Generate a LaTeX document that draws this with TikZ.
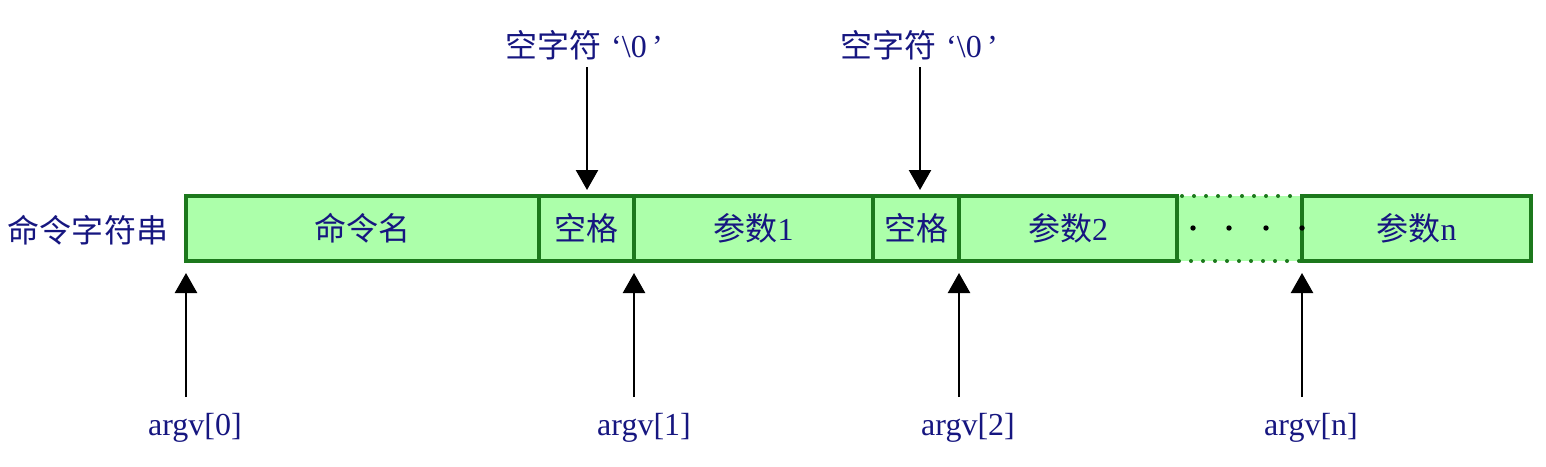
\documentclass[tikz,border=0pt]{standalone}
\usepackage{fontspec}
\setmainfont{Liberation Serif}
\newfontfamily\cjk{Noto Sans CJK SC}
\usetikzlibrary{arrows.meta}
\definecolor{txt}{RGB}{22,22,128}
\definecolor{bord}{RGB}{28,120,28}
\definecolor{cellfill}{RGB}{172,255,170}
\tikzset{
  cell/.style={draw=bord, fill=cellfill, line width=1.6pt, rectangle, inner sep=0pt, outer sep=0pt, minimum height=32.5pt, text=txt, font=\fontsize{16}{18}\selectfont},
  lbl/.style={text=txt, inner sep=0pt, font=\fontsize{16}{18}\selectfont},
  arr/.style={line width=1.25pt, -{Triangle[width=11pt,length=10pt]}},
}
\begin{document}
\begin{tikzpicture}[x=0.5pt,y=-0.5pt]
\useasboundingbox (0,0) rectangle (1546,466);
% dotted cell
\node[cell, draw=none, minimum width=62.5pt] (dc) at (1239.5,228.5) {};
\draw[bord, line width=2pt, line cap=round, dash pattern=on 0pt off 6pt]
  (dc.north east) -- (dc.north west) -- (dc.south west) -- (dc.south east);
% solid cells
\node[cell, minimum width=176.5pt] (c0) at (362.5,228.5) {\cjk 命令名};
\node[cell, minimum width=47.5pt] (s1) at (586.5,228.5) {\cjk 空格};
\node[cell, minimum width=119.5pt] (p1) at (753.5,228.5) {{\cjk 参数}1};
\node[cell, minimum width=43pt] (s2) at (916,228.5) {\cjk 空格};
\node[cell, minimum width=109pt] (p2) at (1068,228.5) {{\cjk 参数}2};
\node[cell, minimum width=114.5pt] (pn) at (1416.5,228.5) {{\cjk 参数}n};
% dots
\foreach \x in {1193,1229,1266,1302}
  \fill (\x,228) circle[radius=2.7];
% left label
\node[lbl] (name) at (88,230) {\cjk 命令字符串};
% top labels
\node[lbl] (z1) at (584,45) {{\cjk 空字符}\hspace{5pt}‘\textbackslash 0\,’};
\node[lbl] (z2) at (919,45) {{\cjk 空字符}\hspace{5pt}‘\textbackslash 0\,’};
\coordinate (zt1) at (587,67);
\coordinate (zt2) at (920,67);
\coordinate (zh1) at (587,190);
\coordinate (zh2) at (920,190);
\draw[arr] (zt1) -- (zh1);
\draw[arr] (zt2) -- (zh2);
% bottom labels
\node[lbl] (a0) at (195,428) {argv[0]};
\node[lbl] (a1) at (644,428) {argv[1]};
\node[lbl] (a2) at (968,428) {argv[2]};
\node[lbl] (an) at (1311,428) {argv[n]};
\coordinate (b0) at (186,397);
\coordinate (b1) at (634,397);
\coordinate (b2) at (959,397);
\coordinate (bn) at (1302,397);
\draw[arr, shorten >=6pt] (b0) -- (c0.south west);
\draw[arr, shorten >=6pt] (b1) -- (p1.south west);
\draw[arr, shorten >=6pt] (b2) -- (p2.south west);
\draw[arr, shorten >=6pt] (bn) -- (pn.south west);
\end{tikzpicture}
\end{document}
